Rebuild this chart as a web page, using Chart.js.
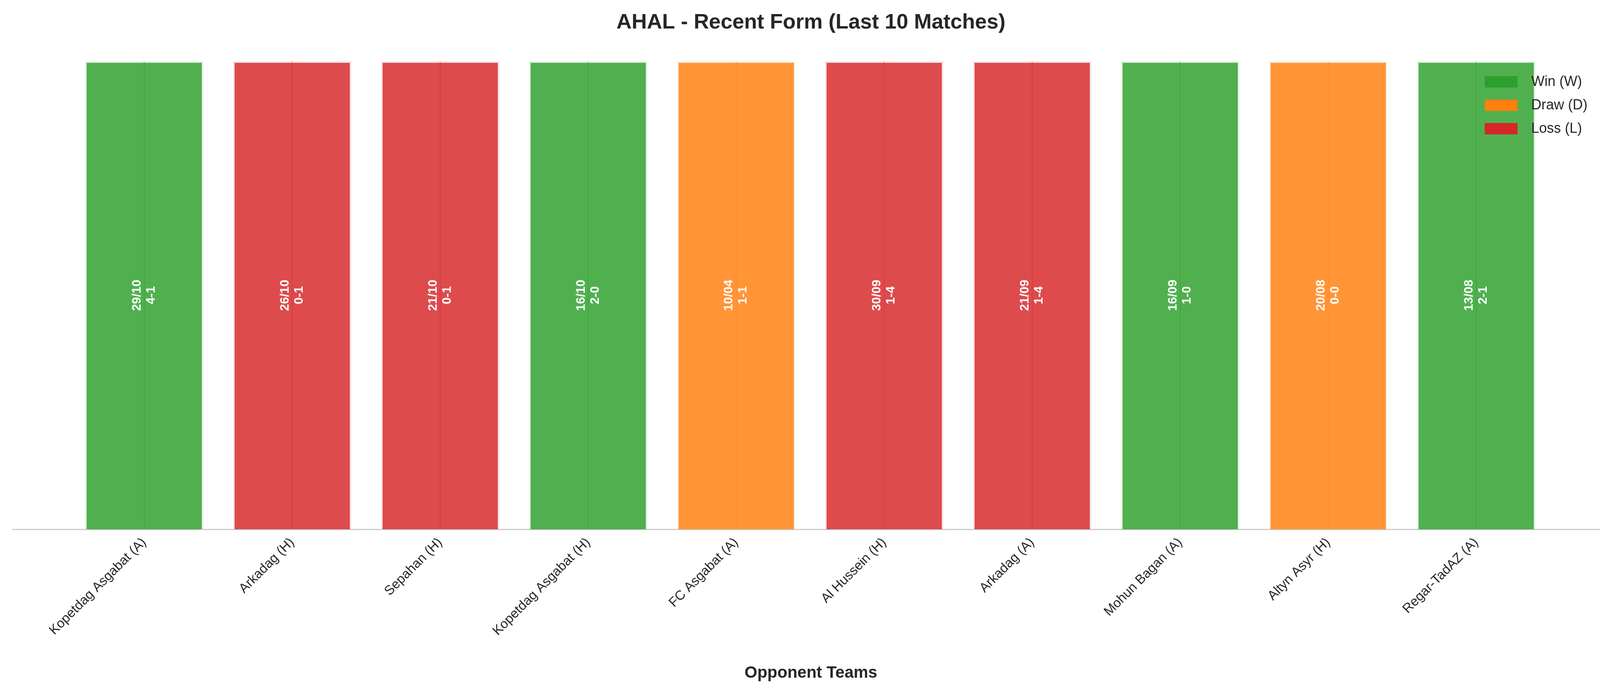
<!DOCTYPE html>
<html><head><meta charset="utf-8">
<script src="https://cdn.jsdelivr.net/npm/chart.js@4.4.0/dist/chart.umd.min.js"></script>
<style>html,body{margin:0;padding:0;background:#fff}#wrap{width:4152px;height:1769px}</style>
</head><body><div id="wrap"><canvas id="c"></canvas></div>
<script>
const opponents = ["Kopetdag Asgabat (A)","Arkadag (H)","Sepahan (H)","Kopetdag Asgabat (H)","FC Asgabat (A)","Al Hussein (H)","Arkadag (A)","Mohun Bagan (A)","Altyn Asyr (H)","Regar-TadAZ (A)"];
const results = ["W","L","L","W","D","L","L","W","D","W"];
const dates = ["29/10","26/10","21/10","16/10","10/04","30/09","21/09","16/09","20/08","13/08"];
const scores = ["4-1","0-1","0-1","2-0","1-1","1-4","1-4","1-0","0-0","2-1"];
const heights = [1,1,1,1,1,1,1,1,1,1];
const fill = {W:"rgba(44,160,44,0.83)",D:"rgba(255,127,14,0.83)",L:"rgba(214,39,40,0.83)"};
const solid = {W:"#2ca02c",D:"#ff7f0e",L:"#d62728"};
const legendItems = [["Win (W)","W"],["Draw (D)","D"],["Loss (L)","L"]];
const FONT = "'Liberation Sans', Arial, sans-serif";

const labelPlugin = {id:"lbl", afterDatasetsDraw(chart){
  const ctx=chart.ctx, meta=chart.getDatasetMeta(0);
  ctx.save(); ctx.fillStyle="#fff"; ctx.font="bold 32px "+FONT; ctx.textAlign="center"; ctx.textBaseline="middle";
  meta.data.forEach((b,i)=>{
    const y=(b.y+b.base)/2;
    ctx.save(); ctx.translate(b.x,y); ctx.rotate(-Math.PI/2);
    ctx.fillText(dates[i],0,-18); ctx.fillText(scores[i],0,18); ctx.restore();
  });
  ctx.font="36px "+FONT; ctx.textAlign="left";
  legendItems.forEach((it,k)=>{
    const y=210+k*60;
    ctx.fillStyle=solid[it[1]]; ctx.fillRect(3801,y-15,84,29);
    ctx.fillStyle="#262626"; ctx.fillText(it[0],3920,y);
  });
  ctx.restore();
}};

new Chart(document.getElementById("c"),{
  type:"bar",
  data:{datasets:[
    {data:heights.map((h,i)=>({x:i,y:h})),backgroundColor:results.map(r=>fill[r]),borderColor:results.map(r=>fill[r].replace("0.83","0.12")),borderWidth:4,categoryPercentage:0.8,barPercentage:1,grouped:false,order:2},
    {data:heights.map((h,i)=>({x:i,y:h})),backgroundColor:results.map(r=>fill[r].replace("0.83","0.25")),barThickness:3,grouped:false,order:1}
  ]},
  plugins:[labelPlugin],
  options:{responsive:true,maintainAspectRatio:false,animation:false,devicePixelRatio:1,
    layout:{padding:{left:32,right:32,top:0,bottom:0}},
    plugins:{legend:{display:false},tooltip:{enabled:false},
      title:{display:true,text:"AHAL - Recent Form (Last 10 Matches)",color:"#262626",font:{family:FONT,size:54,weight:"bold"},padding:{top:26,bottom:66}}},
    scales:{
      x:{type:"linear",offset:false,min:-0.89,max:9.9,
        afterBuildTicks(s){s.ticks=opponents.map((_,i)=>({value:i}));},
        afterFit(s){s.height=414;},
        grid:{display:false,drawTicks:false,offset:false},border:{display:true,color:"#cccccc",width:3},
        ticks:{autoSkip:false,minRotation:45,maxRotation:45,padding:14,color:"#262626",font:{family:FONT,size:34},callback:(v)=>opponents[v]},
        title:{display:true,text:"Opponent Teams",color:"#262626",font:{family:FONT,size:42,weight:"bold"},padding:{top:0,bottom:20}}},
      y:{display:false,min:0,max:1}
    }}
});
</script></body></html>
